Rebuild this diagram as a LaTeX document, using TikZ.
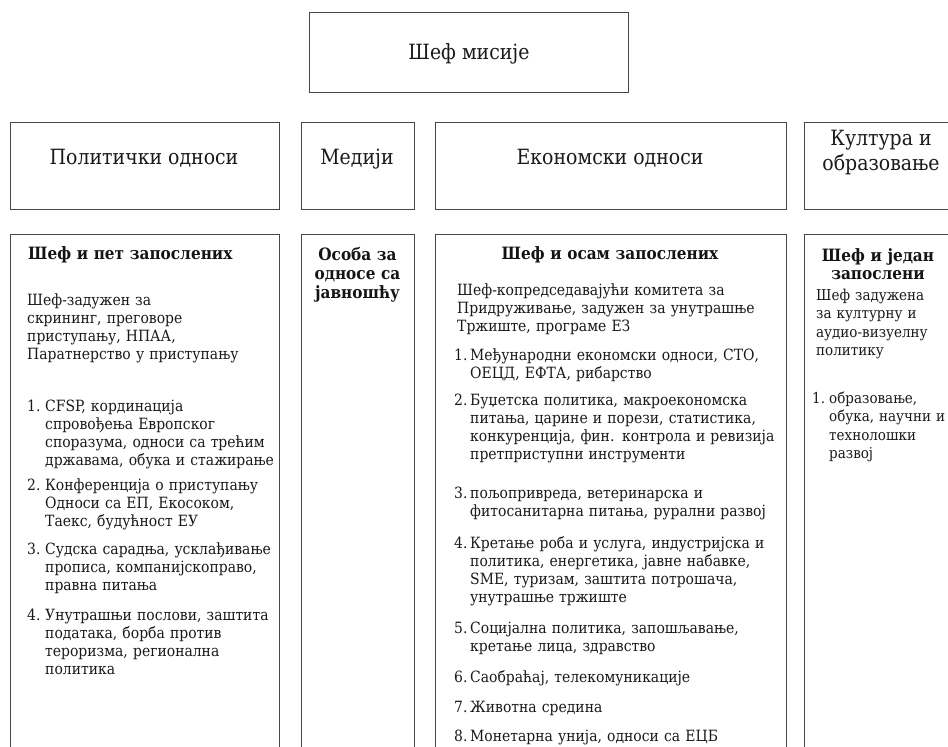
\documentclass[tikz,border=0pt]{standalone}
\usepackage{fontspec}
\setmainfont{DejaVu Serif Condensed}
\begin{document}
\begin{tikzpicture}[x=1pt,y=-1pt,
  box/.style={draw=black!72, line width=0.9pt},
  hdr/.style={font=\fontsize{21}{25}\selectfont, inner sep=0, anchor=base, text=black!90},
  ttl/.style={font=\bfseries\fontsize{17}{18.6}\selectfont, inner sep=0, anchor=base, text width=140pt, align=center, text=black!92},
  body/.style={font=\fontsize{15.5}{18.3}\selectfont, inner sep=0, anchor=base west, text width=400pt, align=left, text=black!90},
  num/.style={font=\fontsize{15.5}{18.3}\selectfont, inner sep=0, anchor=base west, text=black!90},
  kbody/.style={body, font=\fontsize{15}{18.5}\selectfont},
  knum/.style={num, font=\fontsize{15}{18.5}\selectfont}]
\useasboundingbox (0,0) rectangle (948,747);
\clip (0,0) rectangle (948,747);
% boxes
\draw[box] (309,12) rectangle (628,92);
\draw[box] (10,122) rectangle (279,209);
\draw[box] (301,122) rectangle (414,209);
\draw[box] (435,122) rectangle (786,209);
\draw[box] (804,122) rectangle (960,209);
\draw[box] (10,234) rectangle (279,770);
\draw[box] (301,234) rectangle (414,770);
\draw[box] (435,234) rectangle (786,770);
\draw[box] (804,234) rectangle (960,770);
% headers
\node[hdr] (chief) at (469,59) {Шеф мисије};
\node[hdr] (pol) at (144,164) {Политички односи};
\node[hdr] (med) at (357,164) {Медији};
\node[hdr] (eco) at (610,164) {Економски односи};
\node[hdr] (kul1) at (881,145) {Култура и};
\node[hdr] (kul2) at (881,170) {образовање};
% political column
\node[ttl, text width=245pt, align=left, anchor=base west] (polt) at (28,259) {Шеф и пет запослених};
\node[body] (polp) at (27,305) {Шеф-задужен за\\скрининг, преговоре\\приступању, НПАА,\\Паратнерство у приступању};
\node[num] (pn1) at (27,411) {1.};
\node[body] (pi1) at (45,411) {CFSP, кординација\\спровођења Европског\\споразума, односи са трећим\\државама, обука и стажирање};
\node[num] (pn2) at (27,490) {2.};
\node[body] (pi2) at (45,490) {Конференција о приступању\\Односи са ЕП, Екосоком,\\Таекс, будућност ЕУ};
\node[num] (pn3) at (27,554) {3.};
\node[body] (pi3) at (45,554) {Судска сарадња, усклађивање\\прописа, компанијскоправо,\\правна питања};
\node[num] (pn4) at (27,620) {4.};
\node[body] (pi4) at (45,620) {Унутрашњи послови, заштита\\података, борба против\\тероризма, регионална\\политика};
% media column
\node[ttl, font=\bfseries\fontsize{17}{19}\selectfont] (medt) at (357.5,260) {Особа за\\односе са\\јавношћу};
% economic column
\node[ttl, text width=340pt] (ecot) at (610,259) {Шеф и осам запослених};
\node[body] (ecop) at (457,295) {Шеф-копредседавајући комитета за\\Придруживање, задужен за унутрашње\\Тржиште, програме ЕЗ};
\node[num] (en1) at (454,360) {1.};
\node[body] (ei1) at (470,360) {Међународни економски односи, СТО,\\ОЕЦД, ЕФТА, рибарство};
\node[num] (en2) at (454,405) {2.};
\node[body] (ei2) at (470,405) {Буџетска политика, макроекономска\\питања, царине и порези, статистика,\\конкуренција, фин. контрола и ревизија\\претприступни инструменти};
\node[num] (en3) at (454,498) {3.};
\node[body] (ei3) at (470,498) {пољопривреда, ветеринарска и\\фитосанитарна питања, рурални развој};
\node[num] (en4) at (454,548) {4.};
\node[body] (ei4) at (470,548) {Кретање роба и услуга, индустријска и\\политика, енергетика, јавне набавке,\\SME, туризам, заштита потрошача,\\унутрашње тржиште};
\node[num] (en5) at (454,633) {5.};
\node[body] (ei5) at (470,633) {Социјална политика, запошљавање,\\кретање лица, здравство};
\node[num] (en6) at (454,682) {6.};
\node[body] (ei6) at (470,682) {Саобраћај, телекомуникације};
\node[num] (en7) at (454,712) {7.};
\node[body] (ei7) at (470,712) {Животна средина};
\node[num] (en8) at (454,741) {8.};
\node[body] (ei8) at (470,741) {Монетарна унија, односи са ЕЦБ};
% culture column
\node[ttl] (kult) at (878,261) {Шеф и један\\запослени};
\node[kbody] (kulp) at (816,300) {Шеф задужена\\за културну и\\аудио-визуелну\\политику};
\node[knum] (kn1) at (812,403) {1.};
\node[kbody] (ki1) at (829,403) {образовање,\\обука, научни и\\технолошки\\развој};
\end{tikzpicture}
\end{document}
